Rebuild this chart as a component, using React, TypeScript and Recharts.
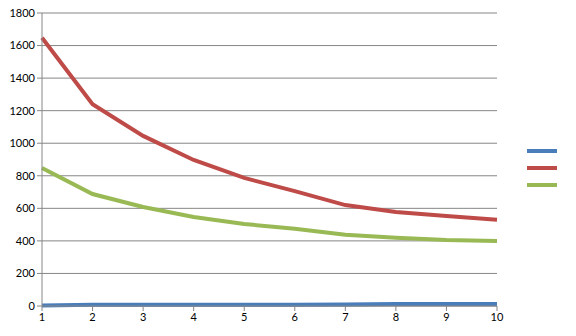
import React from "react";
import { CartesianGrid, Line, LineChart, XAxis, YAxis } from "recharts";

const xValues = [1, 2, 3, 4, 5, 6, 7, 8, 9, 10];
const blueValues = [3, 8, 8, 8, 8, 8, 9, 12, 12, 12];
const redValues = [1648, 1240, 1045, 897, 787, 706, 620, 578, 553, 530];
const greenValues = [848, 688, 608, 547, 504, 474, 438, 420, 406, 400];
const yTicks = [0, 200, 400, 600, 800, 1000, 1200, 1400, 1600, 1800];

const series = [
  { key: "blue", color: "#4A7EBB" },
  { key: "red", color: "#BE4B48" },
  { key: "green", color: "#98B954" },
];

const data = xValues.map((x, i) => ({
  x,
  blue: blueValues[i],
  red: redValues[i],
  green: greenValues[i],
}));

const axisColor = "#868686";
const tickStyle = { fill: "#000", fontSize: 11, fontFamily: "Lato, 'Liberation Sans', sans-serif" };

// legend has no labels in the source, only the line swatches
const SwatchLegend = () => (
  <svg width={32} height={44} style={{ position: "absolute", left: 526, top: 147 }}>
    {series.map((s, i) => (
      <rect key={s.key} x={1} y={2 + i * 17} width={30} height={4} fill={s.color} />
    ))}
  </svg>
);

export default function App() {
  return (
    <div style={{ position: "absolute", left: 0, top: 0, width: 576, height: 336, background: "#fff" }}>
      <LineChart width={576} height={336} data={data} margin={{ top: 13, right: 79, bottom: 10, left: 0 }}>
        <CartesianGrid horizontal vertical={false} stroke={axisColor} strokeWidth={1} />
        <XAxis
          dataKey="x"
          type="number"
          domain={[1, 10]}
          ticks={xValues}
          height={20}
          stroke={axisColor}
          tickSize={5}
          tick={tickStyle}
          interval={0}
        />
        <YAxis
          domain={[0, 1800]}
          ticks={yTicks}
          width={42}
          stroke={axisColor}
          tickSize={5}
          tick={tickStyle}
          interval={0}
        />
        {series.map((s) => (
          <Line
            key={s.key}
            dataKey={s.key}
            stroke={s.color}
            strokeWidth={4}
            dot={false}
            type="linear"
            isAnimationActive={false}
          />
        ))}
      </LineChart>
      <SwatchLegend />
    </div>
  );
}
